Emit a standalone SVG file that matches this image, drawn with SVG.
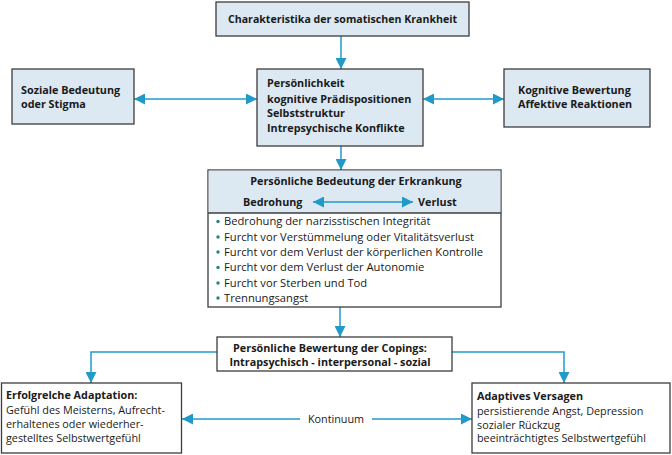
<svg xmlns="http://www.w3.org/2000/svg" width="672" height="455" viewBox="0 0 672 455">
<defs>
<style>
.box{fill:#dce9f2;stroke:#3c3c3c;stroke-width:1.3}
.wbox{fill:#ffffff;stroke:#3c3c3c;stroke-width:1.3}
.b{font-family:"Open Sans","Liberation Sans",sans-serif;font-weight:bold;font-size:10.8px;fill:#1a1a1a}
.r{font-family:"Open Sans","Liberation Sans",sans-serif;font-size:10.8px;fill:#1a1a1a}
.li{font-size:11.2px}
.c{fill:none;stroke:#229ac8;stroke-width:1.5}
.dot{fill:#2b7f86}
</style>
<marker id="ah" viewBox="0 0 10 10" refX="10" refY="5" markerWidth="11" markerHeight="11" markerUnits="userSpaceOnUse" orient="auto-start-reverse">
<path d="M0,0 L10,5 L0,10 Z" fill="#229ac8"/>
</marker>
</defs>
<rect width="672" height="455" fill="#ffffff"/>

<g id="connectors">
<line class="c" x1="341" y1="36" x2="341" y2="69" marker-end="url(#ah)"/>
<line class="c" x1="134" y1="99" x2="257" y2="99" marker-start="url(#ah)" marker-end="url(#ah)"/>
<line class="c" x1="423" y1="99" x2="504" y2="99" marker-start="url(#ah)" marker-end="url(#ah)"/>
<line class="c" x1="341" y1="146" x2="341" y2="170" marker-end="url(#ah)"/>
<line class="c" x1="340" y1="307" x2="340" y2="337" marker-end="url(#ah)"/>
<path class="c" d="M217,352 H91 V383" marker-end="url(#ah)"/>
<path class="c" d="M452,352 H564 V383" marker-end="url(#ah)"/>
<line class="c" x1="300" y1="419" x2="182" y2="419" marker-end="url(#ah)"/>
<line class="c" x1="372" y1="419" x2="472" y2="419" marker-end="url(#ah)"/>
<text class="r" x="336" y="423" text-anchor="middle">Kontinuum</text>
</g>

<g id="n-charakteristika">
<rect class="box" x="216" y="2" width="253" height="34"/>
<text class="b" x="342.5" y="23" text-anchor="middle" style="font-size:10.6px">Charakteristika der somatischen Krankheit</text>
</g>

<g id="n-soziale">
<rect class="box" x="12" y="69" width="122" height="55"/>
<text class="b" x="21" y="94">Soziale Bedeutung</text>
<text class="b" x="21" y="108">oder Stigma</text>
</g>

<g id="n-persoenlichkeit">
<rect class="box" x="257" y="69" width="166" height="77"/>
<text class="b" x="267" y="87">Persönlichkeit</text>
<text class="b" x="267" y="102.5">kognitive Prädispositionen</text>
<text class="b" x="267" y="117">Selbststruktur</text>
<text class="b" x="267" y="132">Intrepsychische Konflikte</text>
</g>

<g id="n-kognitive">
<rect class="box" x="504" y="69" width="146" height="58"/>
<text class="b" x="518" y="94">Kognitive Bewertung</text>
<text class="b" x="518" y="108">Affektive Reaktionen</text>
</g>

<g id="n-bedeutung">
<rect class="wbox" x="208" y="170" width="293" height="137"/>
<rect x="208.65" y="170.65" width="291.7" height="42.35" fill="#dce9f2"/>
<line x1="208" y1="213" x2="501" y2="213" stroke="#3c3c3c" stroke-width="1.3"/>
<text class="b" x="356" y="185" text-anchor="middle">Persönliche Bedeutung der Erkrankung</text>
<text class="b" x="243" y="206">Bedrohung</text>
<text class="b" x="418" y="206">Verlust</text>
<line class="c" x1="313" y1="202" x2="413" y2="202" marker-start="url(#ah)" marker-end="url(#ah)"/>
<circle class="dot" cx="218" cy="221.5" r="1.7"/>
<text class="r li" x="224" y="225">Bedrohung der narzisstischen Integrität</text>
<circle class="dot" cx="218" cy="237" r="1.7"/>
<text class="r li" x="224" y="240.5">Furcht vor Verstümmelung oder Vitalitätsverlust</text>
<circle class="dot" cx="218" cy="252" r="1.7"/>
<text class="r li" x="224" y="255.5">Furcht vor dem Verlust der körperlichen Kontrolle</text>
<circle class="dot" cx="218" cy="267.5" r="1.7"/>
<text class="r li" x="224" y="271">Furcht vor dem Verlust der Autonomie</text>
<circle class="dot" cx="218" cy="283" r="1.7"/>
<text class="r li" x="224" y="286.5">Furcht vor Sterben und Tod</text>
<circle class="dot" cx="218" cy="298" r="1.7"/>
<text class="r li" x="224" y="301.5">Trennungsangst</text>
</g>

<g id="n-coping">
<rect class="wbox" x="217" y="337" width="235" height="34"/>
<text class="b" x="330" y="352" text-anchor="middle">Persönliche Bewertung der Copings:</text>
<text class="b" x="330" y="366" text-anchor="middle">Intrapsychisch - interpersonal - sozial</text>
</g>

<g id="n-erfolgreiche">
<rect class="wbox" x="1.5" y="383" width="180" height="70"/>
<text class="b" x="6" y="399">Erfolgrelche Adaptation:</text>
<text class="r" x="6" y="414">Gefühl des Meisterns, Aufrecht-</text>
<text class="r" x="6" y="428">erhaltenes oder wiederher-</text>
<text class="r" x="6" y="442">gestelltes Selbstwertgefühl</text>
</g>

<g id="n-adaptives">
<rect class="wbox" x="472" y="383" width="198" height="70"/>
<text class="b" x="477" y="400">Adaptives Versagen</text>
<text class="r" x="477" y="415">persistierende Angst, Depression</text>
<text class="r" x="477" y="428.5">sozialer Rückzug</text>
<text class="r" x="477" y="442">beeinträchtigtes Selbstwertgefühl</text>
</g>
</svg>
